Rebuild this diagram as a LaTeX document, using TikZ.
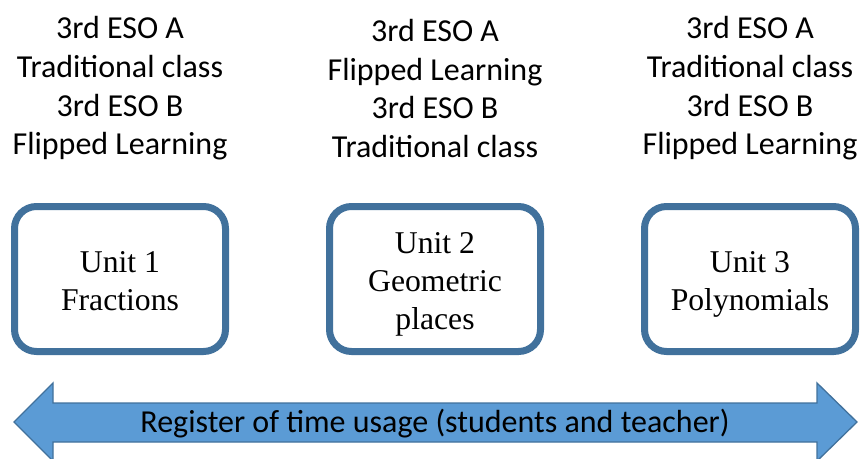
\documentclass[tikz,border=0pt]{standalone}
\usepackage{fontspec}
\setmainfont{Liberation Serif}
\newfontfamily\calib{Carlito}
\definecolor{boxline}{HTML}{41719C}
\definecolor{arrowfill}{HTML}{5B9BD5}
\begin{document}
\begin{tikzpicture}[x=1pt,y=-1pt,
  grouptext/.style={align=center,font=\calib\fontsize{32}{38.7}\selectfont,inner sep=0pt},
  unitbox/.style={draw=boxline,line width=7pt,rounded corners=22pt,fill=white,
    minimum width=211pt,minimum height=145pt,inner sep=0pt},
  unittext/.style={align=center,font=\fontsize{31.7}{38}\selectfont,inner sep=0pt,
    text depth=0pt,yshift=-1.5pt},
  arrowtext/.style={font=\calib\fontsize{32}{37}\selectfont,inner sep=0pt}]
\useasboundingbox (0,0) rectangle (861,458);
\node[grouptext] (g1) at (120,88.5) {3rd ESO A\\Traditional class\\3rd ESO B\\Flipped Learning};
\node[grouptext] (g2) at (435,88.5) {3rd ESO A\\Flipped Learning\\3rd ESO B\\Traditional class};
\node[grouptext] (g3) at (750,88.5) {3rd ESO A\\Traditional class\\3rd ESO B\\Flipped Learning};
\node[unitbox] (u1) at (120,279) {};
\node[unitbox] (u2) at (435,279) {};
\node[unitbox] (u3) at (750,279) {};
\node[unittext] (t1) at (u1.center) {Unit 1\\Fractions};
\node[unittext] (t2) at (u2.center) {Unit 2\\Geometric\\places};
\node[unittext] (t3) at (u3.center) {Unit 3\\Polynomials};
\draw[draw=boxline,fill=arrowfill,line width=1.3pt,line join=miter]
  (14,422) -- (53,383) -- (53,403) -- (817,403) -- (817,383) -- (857,422)
  -- (817,461) -- (817,442) -- (53,442) -- (53,461) -- cycle;
\node[arrowtext] (reg) at (435,424) {Register of time usage (students and teacher)};
\end{tikzpicture}
\end{document}
